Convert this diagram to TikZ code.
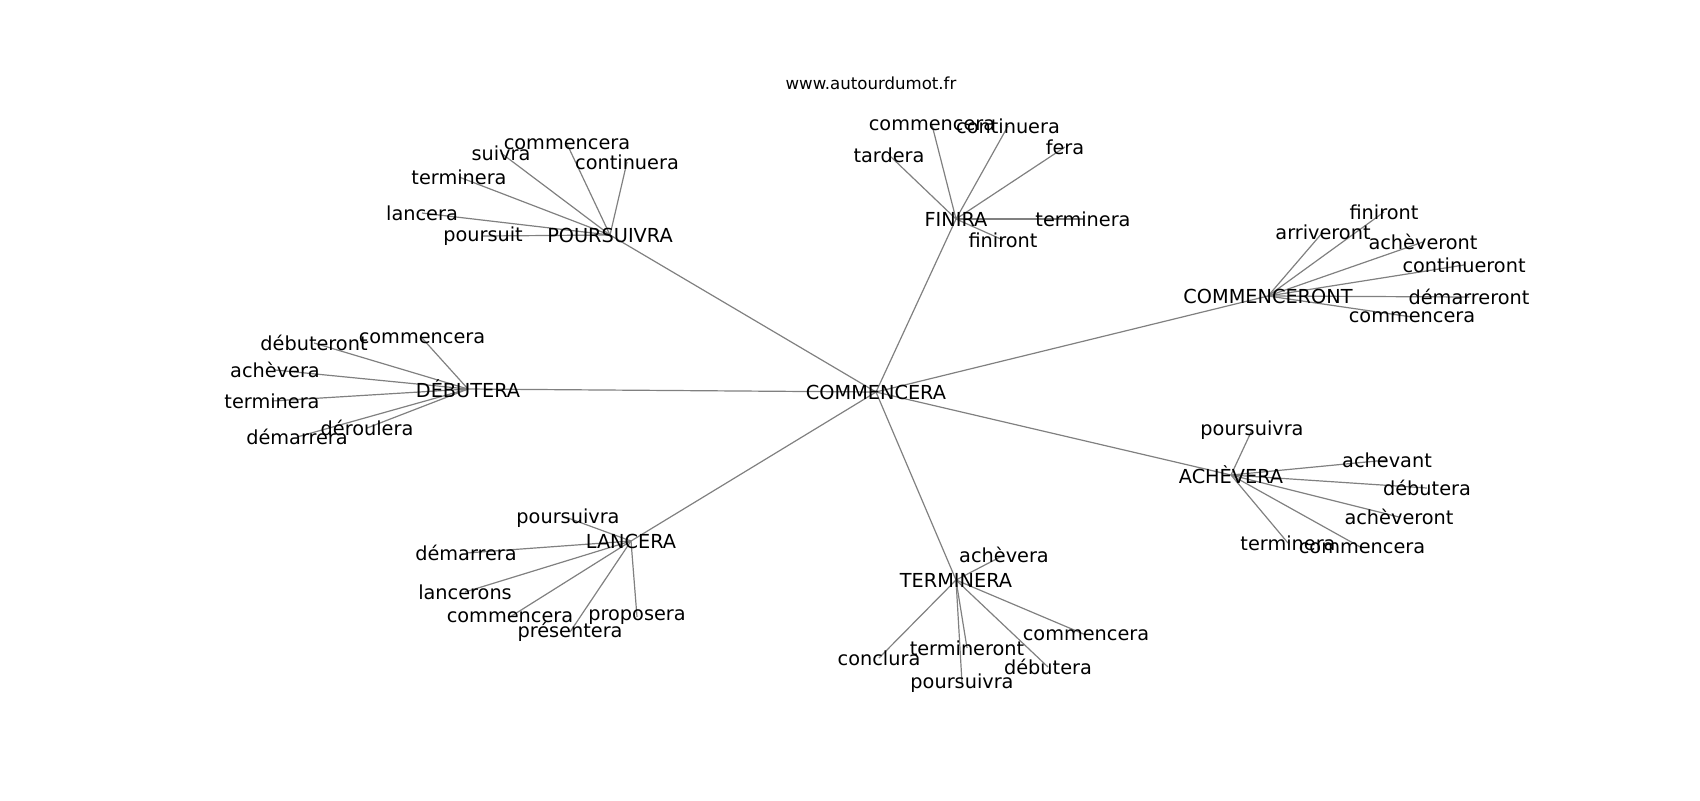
\documentclass[tikz,border=0pt]{standalone}
\usepackage{fontspec}
\setmainfont{DejaVu Sans}
\usetikzlibrary{backgrounds}
\begin{document}
\begin{tikzpicture}[x=.5pt,y=-.5pt,
  word/.style={inner sep=0pt,font=\fontsize{9.65}{11}\selectfont},
  edge/.style={color=gray,line width=.6pt}]
\useasboundingbox (0,0) rectangle (1700,800);
\node[inner sep=0pt,font=\fontsize{8.3}{10}\selectfont] (site) at (871,83) {www.autourdumot.fr};
% centre and hubs
\node[word] (c) at (876,392) {COMMENCERA};
\node[word] (p) at (610,235) {POURSUIVRA};
\node[word] (f) at (956,219) {FINIRA};
\node[word] (o) at (1268,296) {COMMENCERONT};
\node[word] (d) at (468,389) {DÉBUTERA};
\node[word] (a) at (1231,475) {ACHÈVERA};
\node[word] (l) at (631,541) {LANCERA};
\node[word] (t) at (956,580) {TERMINERA};
% poursuivra
\node[word] (p1) at (567,144) {commencera};
\node[word] (p2) at (501,153) {suivra};
\node[word] (p3) at (627,162) {continuera};
\node[word] (p4) at (459,177) {terminera};
\node[word] (p5) at (422,213) {lancera};
\node[word] (p6) at (483,236) {poursuit};
% finira
\node[word] (f1) at (932,125) {commencera};
\node[word] (f2) at (1008,126) {continuera};
\node[word] (f3) at (889,155) {tardera};
\node[word] (f4) at (1065,147) {fera};
\node[word] (f5) at (1083,219) {terminera};
\node[word] (f6) at (1003,240) {finiront};
% commenceront
\node[word] (o1) at (1384,212) {finiront};
\node[word] (o2) at (1323,232) {arriveront};
\node[word] (o3) at (1423,242) {achèveront};
\node[word] (o4) at (1464,265) {continueront};
\node[word] (o5) at (1469,297) {démarreront};
\node[word] (o6) at (1412,317) {commencera};
% debutera
\node[word] (d1) at (314,343) {débuteront};
\node[word] (d2) at (422,338) {commencera};
\node[word] (d3) at (275,370) {achèvera};
\node[word] (d4) at (272,401) {terminera};
\node[word] (d5) at (367,428) {déroulera};
\node[word] (d6) at (297,437) {démarrera};
% achevera
\node[word] (a1) at (1252,430) {poursuivra};
\node[word] (a2) at (1387,460) {achevant};
\node[word] (a3) at (1427,488) {débutera};
\node[word] (a4) at (1399,517) {achèveront};
\node[word] (a5) at (1288,543) {terminera};
\node[word] (a6) at (1362,548) {commencera};
% lancera
\node[word] (l1) at (568,518) {poursuivra};
\node[word] (l2) at (466,553) {démarrera};
\node[word] (l3) at (465,592) {lancerons};
\node[word] (l4) at (510,617) {commencera};
\node[word] (l5) at (570,632) {présentera};
\node[word] (l6) at (637,617) {proposera};
% terminera
\node[word] (t1) at (1004,555) {achèvera};
\node[word] (t2) at (1086,635) {commencera};
\node[word] (t3) at (967,648) {termineront};
\node[word] (t4) at (879,658) {conclura};
\node[word] (t5) at (1048,667) {débutera};
\node[word] (t6) at (962,683) {poursuivra};
% edges under the words
\begin{pgfonlayer}{background}
\foreach \h in {p,f,o,d,a,l,t} {
  \draw[edge] (c.center) -- (\h.center);
  \foreach \i in {1,...,6}
    \draw[edge] (\h.center) -- (\h\i.center);
}
\end{pgfonlayer}
\end{tikzpicture}
\end{document}
